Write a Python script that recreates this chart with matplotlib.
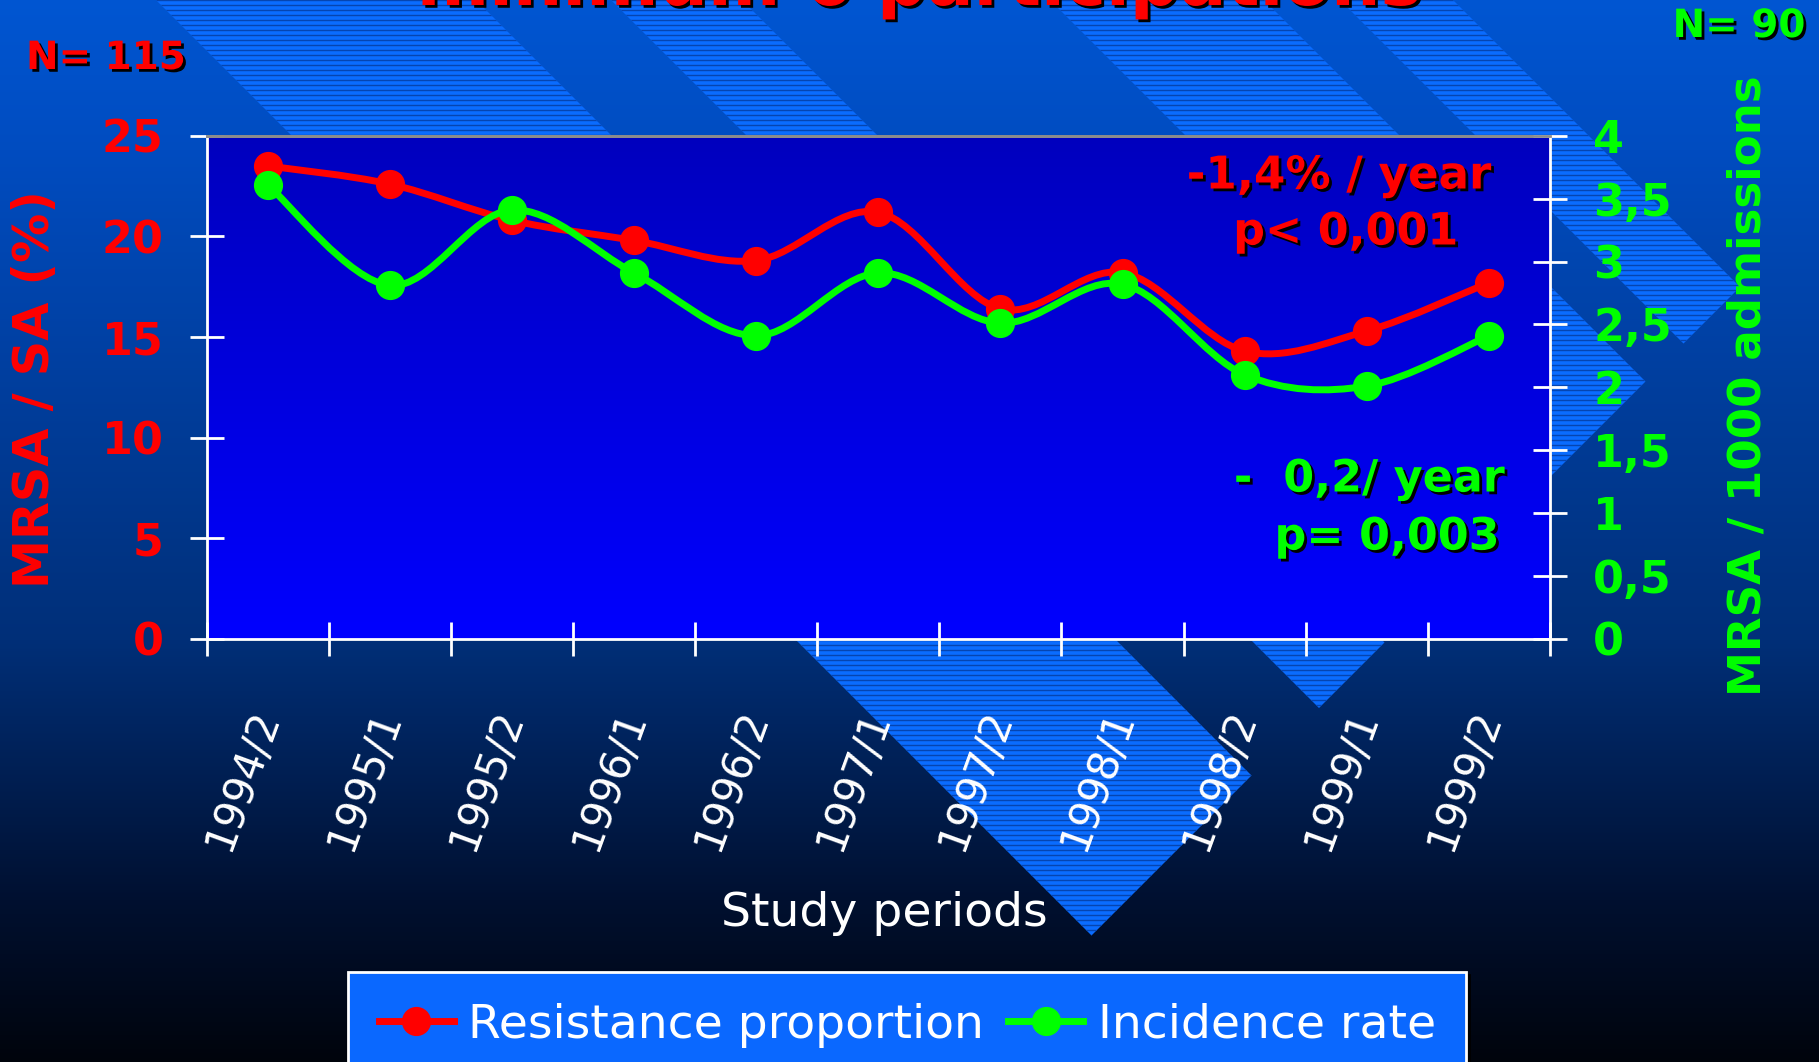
import numpy as np
import matplotlib
matplotlib.use("Agg")
import matplotlib.pyplot as plt
from matplotlib.path import Path
from matplotlib.patches import PathPatch, Polygon
from matplotlib.lines import Line2D
import matplotlib.patheffects as pe

# ---------------- data ----------------
periods = ["1994/2", "1995/1", "1995/2", "1996/1", "1996/2", "1997/1",
           "1997/2", "1998/1", "1998/2", "1999/1", "1999/2"]
resistance = [23.5, 22.6, 20.8, 19.8, 18.8, 21.2, 16.4, 18.2, 14.3, 15.3, 17.7]
incidence = [3.61, 2.81, 3.41, 2.91, 2.41, 2.91, 2.51, 2.82, 2.10, 2.01, 2.41]
left_ticks = [0, 5, 10, 15, 20, 25]
right_ticks = [0, 0.5, 1, 1.5, 2, 2.5, 3, 3.5, 4]
right_tick_labels = ["0", "0,5", "1", "1,5", "2", "2,5", "3", "3,5", "4"]
series_names = ["Resistance proportion", "Incidence rate"]

W, H = 1819, 1062
fig = plt.figure(figsize=(W / 100, H / 100), dpi=100)

# ---------------- background (pixel coordinates) ----------------
bg = fig.add_axes([0, 0, 1, 1], zorder=-1)
bg.set_xlim(0, W)
bg.set_ylim(H, 0)
bg.axis("off")

ys = np.arange(H)
stops_y = [0, 150, 640, 900, H]
stops_c = np.array([[0, 86, 210], [0, 76, 192], [0, 47, 120], [0, 16, 48], [0, 4, 12]]) / 255.0
grad = np.stack([np.interp(ys, stops_y, stops_c[:, k]) for k in range(3)], axis=-1)[:, None, :]
bg.imshow(grad, extent=[0, W, H, 0], aspect="auto", zorder=0, interpolation="bilinear")

# diagonal striped bands, cut by the line x + y = K
K = 2027
bands = [(-156, -476), (-611, -742), (-1050, -1264), (-1340, -1453)]
for c_hi, c_lo in bands:
    verts = [(-c_hi, 0), (-c_lo, 0), ((K - c_lo) / 2, (K + c_lo) / 2), ((K - c_hi) / 2, (K + c_hi) / 2)]
    poly = Polygon(verts, closed=True, facecolor="#0a6cff", edgecolor="none", zorder=1)
    bg.add_patch(poly)
    hl = bg.hlines(np.arange(0, H, 5), 0, W, colors="#0645b0", linewidth=1.0, zorder=2)
    hl.set_clip_path(poly)

# axes face gradient
L, R, T, B = 206.5, 1550, 135.7, 639
face = np.stack([np.zeros(200), np.zeros(200), np.linspace(190, 255, 200) / 255], axis=-1)[:, None, :]
bg.imshow(face, extent=[L, R, B, T], aspect="auto", zorder=5, interpolation="bilinear")
bg.set_xlim(0, W)
bg.set_ylim(H, 0)

# ---------------- main axes ----------------
ax = fig.add_axes([L / W, 1 - B / H, (R - L) / W, (B - T) / H])
ax.patch.set_alpha(0)
ax2 = ax.twinx()
ax2.patch.set_alpha(0)

x = np.arange(len(periods))


def smooth_path(xv, yv):
    pts = np.column_stack([xv, yv]).astype(float)
    n = len(pts)
    verts = [pts[0]]
    codes = [Path.MOVETO]
    for i in range(n - 1):
        p0 = pts[i - 1] if i > 0 else pts[i]
        p1 = pts[i]
        p2 = pts[i + 1]
        p3 = pts[i + 2] if i + 2 < n else pts[i + 1]
        verts += [p1 + (p2 - p0) / 6, p2 - (p3 - p1) / 6, p2]
        codes += [Path.CURVE4] * 3
    return Path(verts, codes)


ax.add_patch(PathPatch(smooth_path(x, resistance), fill=False, edgecolor="#ff0000",
                       linewidth=5, capstyle="round", joinstyle="round", zorder=3))
ax.plot(x, resistance, linestyle="none", marker="o", markersize=20, color="#ff0000", zorder=4)
ax2.add_patch(PathPatch(smooth_path(x, incidence), fill=False, edgecolor="#00ff00",
                        linewidth=5, capstyle="round", joinstyle="round", zorder=3))
ax2.plot(x, incidence, linestyle="none", marker="o", markersize=20, color="#00ff00", zorder=4)

ax.set_xlim(-0.5, len(periods) - 0.5)
ax.set_ylim(0, 25)
ax2.set_ylim(0, 4)

ax.set_yticks(left_ticks)
ax.set_yticklabels([str(t) for t in left_ticks])
ax2.set_yticks(right_ticks)
ax2.set_yticklabels(right_tick_labels)

ax.set_xticks(x)
ax.set_xticklabels(periods)
ax.set_xticks(np.arange(len(periods) + 1) - 0.5, minor=True)

ax.tick_params(axis="x", which="major", length=0, pad=52, labelsize=30, labelcolor="white",
               labelrotation=70)
ax.tick_params(axis="x", which="minor", direction="inout", length=24, width=2, color="white")
for lab in ax.get_xticklabels():
    lab.set_ha("right")
    lab.set_va("center")
    lab.set_rotation_mode("anchor")

ax.tick_params(axis="y", direction="inout", length=24, width=2, color="white", pad=19,
               labelsize=32, labelcolor="#ff0000")
ax2.tick_params(axis="y", direction="inout", length=24, width=2, color="white", pad=19,
                labelsize=32, labelcolor="#00ff00")
for lab in ax.get_yticklabels():
    lab.set_fontweight("bold")
for lab in ax2.get_yticklabels():
    lab.set_fontweight("bold")

for a in (ax, ax2):
    for s in a.spines.values():
        s.set_linewidth(2)
ax.spines["left"].set_color("white")
ax.spines["bottom"].set_color("white")
ax.spines["top"].set_color("#8c8c8c")
ax.spines["right"].set_visible(False)
ax2.spines["right"].set_color("white")
ax2.spines["left"].set_visible(False)
ax2.spines["bottom"].set_visible(False)
ax2.spines["top"].set_color("#8c8c8c")

# ---------------- texts ----------------
shadow = [pe.withSimplePatchShadow(offset=(2, -2), shadow_rgbFace="black", alpha=1.0)]


def fx(px):
    return px / W


def fy(py):
    return 1 - py / H


fig.text(fx(920), fy(5), "minimum 6 participations", ha="center", va="baseline",
         fontsize=50, fontweight="bold", color="#ff0000", path_effects=shadow)
fig.text(fx(106), fy(58), "N= 115", ha="center", va="center", fontsize=28,
         fontweight="bold", color="#ff0000", path_effects=shadow)
fig.text(fx(1739), fy(26), "N= 90", ha="center", va="center", fontsize=28,
         fontweight="bold", color="#00ff00", path_effects=shadow)
fig.text(fx(35), fy(389), "MRSA / SA (%)", rotation=90, ha="center", va="center",
         fontsize=35.5, fontweight="bold", color="#ff0000")
fig.text(fx(1748), fy(386), "MRSA / 1000 admissions", rotation=90, ha="center", va="center",
         fontsize=32.5, fontweight="bold", color="#00ff00")
fig.text(fx(1339), fy(176), "-1,4% / year", ha="center", va="center", fontsize=32.5,
         fontweight="bold", color="#ff0000", path_effects=shadow)
fig.text(fx(1346), fy(232), "p< 0,001", ha="center", va="center", fontsize=32,
         fontweight="bold", color="#ff0000", path_effects=shadow)
fig.text(fx(1505), fy(479), "-  0,2/ year", ha="right", va="center", fontsize=32,
         fontweight="bold", color="#00ff00", path_effects=shadow)
fig.text(fx(1500), fy(537), "p= 0,003", ha="right", va="center", fontsize=32,
         fontweight="bold", color="#00ff00", path_effects=shadow)
fig.text(fx(884), fy(914), "Study periods", ha="center", va="center", fontsize=34,
         color="white")

# ---------------- legend ----------------
handles = [Line2D([0], [0], color="#ff0000", lw=5, marker="o", markersize=20),
           Line2D([0], [0], color="#00ff00", lw=5, marker="o", markersize=20)]
leg = fig.legend(handles, series_names, loc="upper left", bbox_to_anchor=(fx(348), fy(972)),
                 ncol=2, frameon=True, fancybox=False, fontsize=34, labelcolor="white",
                 facecolor="#0a68ff", edgecolor="white", framealpha=1,
                 shadow={"color": "black", "alpha": 1},
                 handlelength=1.6, handletextpad=0.3, columnspacing=0.5,
                 borderpad=0.65, borderaxespad=0)
leg.get_frame().set_linewidth(2)

fig.savefig("out.png", dpi=100)
